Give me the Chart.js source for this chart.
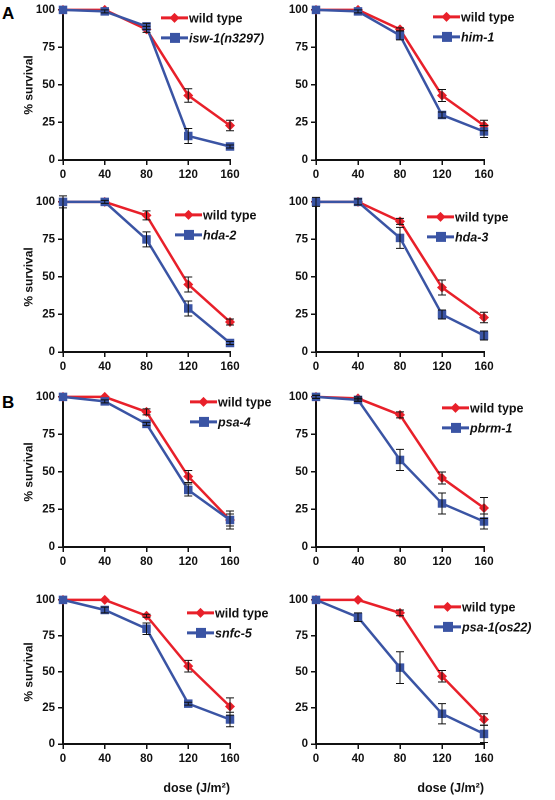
<!DOCTYPE html>
<html>
<head>
<meta charset="UTF-8">
<script src="https://cdn.jsdelivr.net/npm/chart.js"></script>
<style>
  body { margin:0; background:#fff; width:555px; height:800px; position:relative; overflow:hidden; font-family:"Liberation Sans", Arial, sans-serif; }
  canvas { position:absolute; }
  .lab { position:absolute; font-weight:bold; font-size:17px; }
</style>
</head>
<body>
<div class="lab" style="left:2px;top:4px">A</div>
<div class="lab" style="left:2px;top:393px">B</div>

<script>
// dose values (J/m2)
var doses = [0, 40, 80, 120, 160];
var yTicks = [0, 25, 50, 75, 100];

// survival (%) and error bars, one pair per panel
var wt1 = [100, 100, 87, 43, 23],  wt1Err = [0, 0, 2, 4.5, 3.5];
var isw1 = [100, 99, 89, 16, 9],   isw1Err = [0, 1, 2, 5, 1];
var wt2 = [100, 100, 87, 43, 23],  wt2Err = [0, 0, 1, 4, 3.5];
var him1 = [100, 99, 83, 30, 19],  him1Err = [0, 1, 3, 2, 4];
var wt3 = [100, 100, 91, 45, 20],  wt3Err = [0, 1, 3, 5, 2];
var hda2 = [100, 100, 75, 29, 6],  hda2Err = [4, 0, 5, 5, 1];
var wt4 = [100, 100, 87, 43, 23],  wt4Err = [0, 2, 2, 5, 3.5];
var hda3 = [100, 100, 76, 25, 11], hda3Err = [3, 0, 7, 3, 3];
var wt5 = [100, 100, 90, 47, 18],  wt5Err = [0, 0, 2, 4, 4];
var psa4 = [100, 97, 82, 38, 18],  psa4Err = [0, 1, 1, 4, 6];
var wt6 = [100, 99, 88, 46, 26],   wt6Err = [1, 1, 2, 4, 7];
var pbrm1 = [100, 98, 58, 29, 17], pbrm1Err = [1, 1, 7, 7, 5];
var wt7 = [100, 100, 89, 54, 26],  wt7Err = [0, 0, 1, 4, 6];
var snfc5 = [100, 93, 80, 28, 17], snfc5Err = [0, 2, 4, 1, 5];
var wt8 = [100, 100, 91, 47, 17],  wt8Err = [0, 0, 2, 4, 4];
var psa1 = [100, 88, 53, 21, 7],   psa1Err = [0, 3, 11, 7, 6];

var RED = '#e8202a', BLUE = '#3a54a4';

var panels = [
  { name: 'isw-1(n3297)', wt: wt1, wtE: wt1Err, mu: isw1, muE: isw1Err, col: 0, row: 0, lx: 98, ly: 8 },
  { name: 'him-1', wt: wt2, wtE: wt2Err, mu: him1, muE: him1Err, col: 1, row: 0, lx: 117, ly: 7 },
  { name: 'hda-2', wt: wt3, wtE: wt3Err, mu: hda2, muE: hda2Err, col: 0, row: 1, lx: 112, ly: 13 },
  { name: 'hda-3', wt: wt4, wtE: wt4Err, mu: hda3, muE: hda3Err, col: 1, row: 1, lx: 111, ly: 15 },
  { name: 'psa-4', wt: wt5, wtE: wt5Err, mu: psa4, muE: psa4Err, col: 0, row: 2, lx: 127, ly: 5 },
  { name: 'pbrm-1', wt: wt6, wtE: wt6Err, mu: pbrm1, muE: pbrm1Err, col: 1, row: 2, lx: 126, ly: 11 },
  { name: 'snfc-5', wt: wt7, wtE: wt7Err, mu: snfc5, muE: snfc5Err, col: 0, row: 3, lx: 124, ly: 13 },
  { name: 'psa-1(os22)', wt: wt8, wtE: wt8Err, mu: psa1, muE: psa1Err, col: 1, row: 3, lx: 118, ly: 7 }
];

var rowTop = [0, 192, 387, 590];
var rowH = [195, 195, 195, 210];

// error bars + in-plot legend
var extras = {
  id: 'extras',
  afterDatasetsDraw: function (chart) {
    var ctx = chart.ctx, xs = chart.scales.x, ys = chart.scales.y;
    var p = chart.options.plugins.extras;
    ctx.save();
    ctx.strokeStyle = '#111';
    ctx.lineWidth = 1;
    [[p.mu, p.muE], [p.wt, p.wtE]].forEach(function (pair) {
      pair[0].forEach(function (v, i) {
        var e = pair[1][i];
        if (!e) return;
        var x = xs.getPixelForValue(doses[i]);
        var y1 = ys.getPixelForValue(v + e), y2 = ys.getPixelForValue(v - e);
        ctx.beginPath();
        ctx.moveTo(x, y1); ctx.lineTo(x, y2);
        ctx.moveTo(x - 4, y1); ctx.lineTo(x + 4, y1);
        ctx.moveTo(x - 4, y2); ctx.lineTo(x + 4, y2);
        ctx.stroke();
      });
    });
    var a = chart.chartArea;
    var lx = a.left + p.lx, ly = a.top + p.ly;
    var items = [
      { c: RED, s: 'rectRot', t: 'wild type', it: false },
      { c: BLUE, s: 'rect', t: p.name, it: true }
    ];
    items.forEach(function (it, k) {
      var y = ly + k * 20;
      ctx.strokeStyle = it.c; ctx.fillStyle = it.c; ctx.lineWidth = 3;
      ctx.beginPath(); ctx.moveTo(lx, y); ctx.lineTo(lx + 27, y); ctx.stroke();
      ctx.beginPath();
      if (it.s === 'rect') ctx.rect(lx + 9, y - 5, 10, 10);
      else { ctx.moveTo(lx + 13.5, y - 5); ctx.lineTo(lx + 18.5, y); ctx.lineTo(lx + 13.5, y + 5); ctx.lineTo(lx + 8.5, y); ctx.closePath(); }
      ctx.fill();
      ctx.fillStyle = '#111';
      ctx.font = (it.it ? 'italic ' : '') + 'bold 12.5px "Liberation Sans", Arial, sans-serif';
      ctx.textBaseline = 'middle';
      ctx.fillText(it.t, lx + 28, y + 1);
    });
    ctx.restore();
  }
};

var tickFont = { family: '"Liberation Sans", Arial, sans-serif', size: 11.5, weight: 'bold' };

panels.forEach(function (p) {
  var cv = document.createElement('canvas');
  var left = p.col === 0 ? 22 : 278;
  var w = p.col === 0 ? 256 : 277;
  var h = rowH[p.row];
  cv.style.left = left + 'px';
  cv.style.top = rowTop[p.row] + 'px';
  cv.style.width = w + 'px';
  cv.style.height = h + 'px';
  cv.style.zIndex = p.col === 0 ? 2 : 1;
  document.body.appendChild(cv);
  var last = p.row === 3;
  new Chart(cv, {
    type: 'line',
    data: {
      datasets: [
        { data: p.mu, borderColor: BLUE, backgroundColor: BLUE, borderWidth: 2.5, pointStyle: 'rect', pointRadius: 6, pointBorderWidth: 0 },
        { data: p.wt, borderColor: RED, backgroundColor: RED, borderWidth: 2.5, pointStyle: 'rectRot', pointRadius: 5, pointBorderWidth: 0 }
      ].map(function (d) {
        d.data = d.data.map(function (v, i) { return { x: doses[i], y: v }; });
        d.clip = false; d.tension = 0;
        return d;
      })
    },
    options: {
      responsive: false, animation: false, devicePixelRatio: 2,
      layout: { padding: { top: 8, right: p.col === 0 ? 48 : 71, left: 0, bottom: 0 } },
      plugins: { legend: { display: false }, tooltip: { enabled: false },
        extras: { name: p.name, lx: p.lx, ly: p.ly, wt: p.wt, wtE: p.wtE, mu: p.mu, muE: p.muE } },
      scales: {
        x: {
          type: 'linear', min: 0, max: 160,
          afterBuildTicks: function (s) { s.ticks = doses.map(function (v) { return { value: v }; }); },
          afterFit: function (s) { s.height = last ? 56 : 35; },
          grid: { display: true, drawOnChartArea: false, drawTicks: true, tickLength: 5, color: '#111', lineWidth: 1.5 },
          border: { color: '#111', width: 2 },
          ticks: { color: '#111', font: tickFont, maxRotation: 0, padding: 3 },
          title: { display: last, text: 'dose (J/m²)', color: '#111', align: 'end', font: { family: '"Liberation Sans", Arial, sans-serif', size: 12.5, weight: 'bold' }, padding: { top: 4 } }
        },
        y: {
          min: 0, max: 100,
          afterBuildTicks: function (s) { s.ticks = yTicks.map(function (v) { return { value: v }; }); },
          afterFit: function (s) { s.width = p.col === 0 ? 41 : 38; },
          grid: { display: true, drawOnChartArea: false, drawTicks: true, tickLength: 5, color: '#111', lineWidth: 1.5 },
          border: { color: '#111', width: 2 },
          ticks: { color: '#111', font: tickFont, padding: 3 },
          title: { display: p.col === 0, text: '% survival', color: '#111', font: { family: '"Liberation Sans", Arial, sans-serif', size: 12, weight: 'bold' }, padding: 0 }
        }
      }
    },
    plugins: [extras]
  });
});
</script>
</body>
</html>
